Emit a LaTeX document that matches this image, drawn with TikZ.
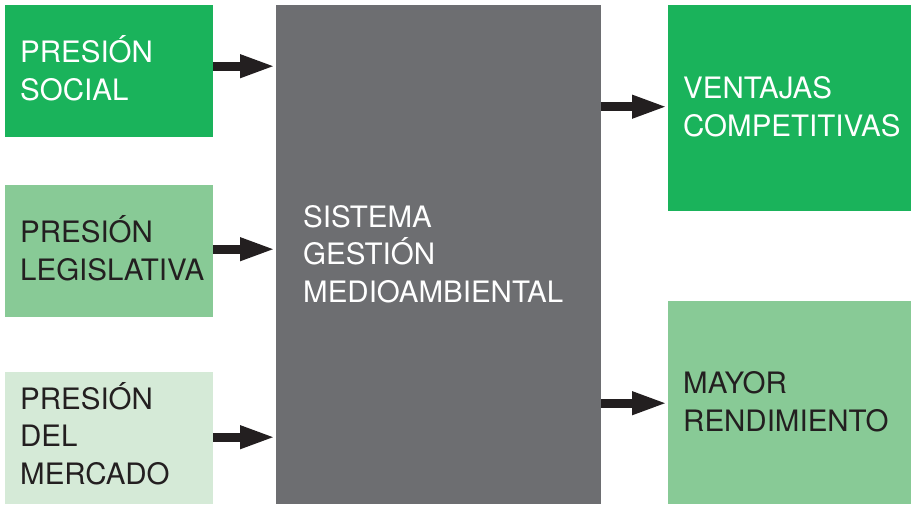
\documentclass[tikz,border=0pt]{standalone}
\usepackage{fontspec}
\setmainfont{TeX Gyre Heros}
\usetikzlibrary{arrows.meta}
\definecolor{dgreen}{HTML}{1AB35B}
\definecolor{lgreen}{HTML}{88CA96}
\definecolor{pgreen}{HTML}{D5EAD7}
\definecolor{sgray}{HTML}{6D6E71}
\definecolor{ink}{HTML}{231F20}
\begin{document}
\begin{tikzpicture}[x=1pt,y=-1pt,
  boxstyle/.style={draw=none,inner sep=0pt,anchor=north west},
  lbl/.style={anchor=base west,inner sep=0pt,align=left,font=\fontsize{29.5}{37.5}\selectfont},
  arr/.style={draw=ink,line width=9pt,-{Triangle[length=36pt,width=21pt]}}]
\useasboundingbox (0,0) rectangle (911,506);
% boxes
\node[boxstyle,fill=dgreen,minimum width=208pt,minimum height=132pt] (ps) at (5,5) {};
\node[boxstyle,fill=lgreen,minimum width=208pt,minimum height=132pt] (pl) at (5,185) {};
\node[boxstyle,fill=pgreen,minimum width=208pt,minimum height=132pt] (pm) at (5,372) {};
\node[boxstyle,fill=sgray,minimum width=325pt,minimum height=499pt] (sg) at (276,5) {};
\node[boxstyle,fill=dgreen,minimum width=243pt,minimum height=206pt] (vc) at (668,5) {};
\node[boxstyle,fill=lgreen,minimum width=243pt,minimum height=203pt] (mr) at (668,301) {};
% labels (anchored at the baseline of the last line)
\node[lbl,text=white] (tps) at (20,100) {PRESIÓN\\SOCIAL};
\node[lbl,text=ink] (tpl) at (20,280) {PRESIÓN\\LEGISLATIVA};
\node[lbl,text=ink] (tpm) at (20,484) {PRESIÓN\\DEL\\MERCADO};
\node[lbl,text=white] (tsg) at (303,302) {SISTEMA\\GESTIÓN\\MEDIOAMBIENTAL};
\node[lbl,text=white] (tvc) at (683,136) {VENTAJAS\\COMPETITIVAS};
\node[lbl,text=ink] (tmr) at (683,431) {MAYOR\\RENDIMIENTO};
% arrows
\draw[arr] ([yshift=5pt]ps.east) -- ([yshift=5pt]ps.east -| sg.west);
\draw[arr] ([yshift=2pt]pl.east) -- ([yshift=2pt]pl.east -| sg.west);
\draw[arr] ([yshift=1pt]pm.east) -- ([yshift=1pt]pm.east -| sg.west);
\draw[arr] ([yshift=1.5pt]vc.west -| sg.east) -- ([yshift=1.5pt]vc.west);
\draw[arr] ([yshift=-0.5pt]mr.west -| sg.east) -- ([yshift=-0.5pt]mr.west);
\end{tikzpicture}
\end{document}
